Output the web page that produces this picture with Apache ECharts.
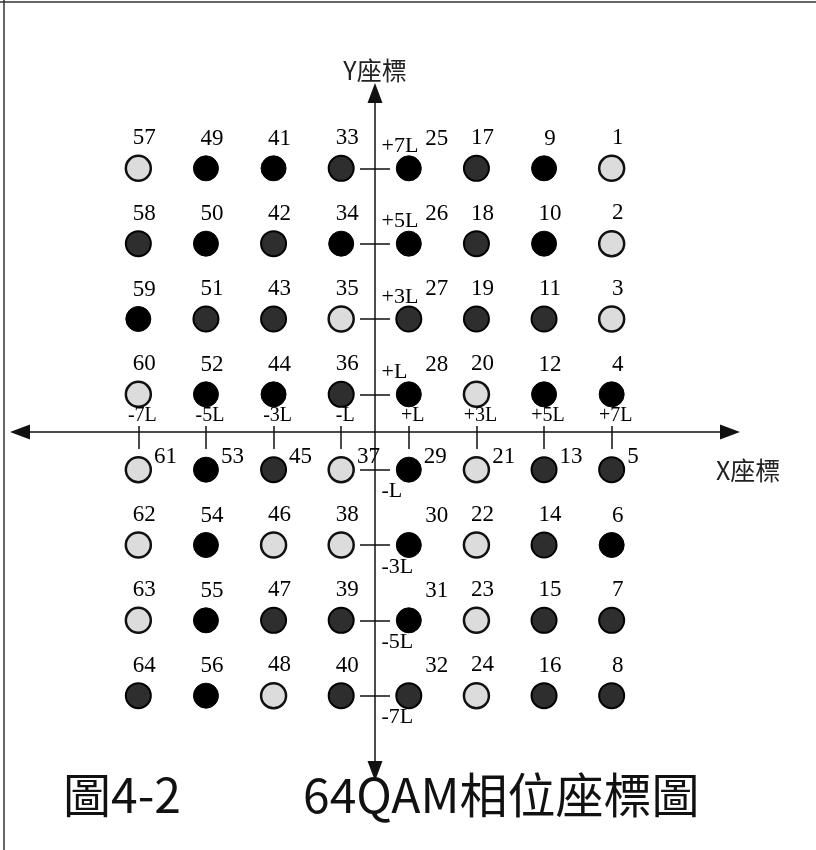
<!DOCTYPE html>
<html>
<head>
<meta charset="utf-8">
<title>64QAM相位座標圖</title>
<script src="https://cdn.jsdelivr.net/npm/echarts@6/dist/echarts.min.js"></script>
<style>
  html, body { margin: 0; padding: 0; background: #fff; }
  #chart { width: 816px; height: 850px; }
</style>
</head>
<body>
<div id="chart"></div>
<script>
// constellation levels in units of L: columns left -> right, rows top -> bottom
const xLevels = [-7, -5, -3, -1, 1, 3, 5, 7];
const yLevels = [7, 5, 3, 1, -1, -3, -5, -7];
const xTickLabels = ["-7L", "-5L", "-3L", "-L", "+L", "+3L", "+5L", "+7L"];
const yTickLabels = ["+7L", "+5L", "+3L", "+L", "-L", "-3L", "-5L", "-7L"];

// symbol number of each point, one row per y level
const symbolRows = [
  [57, 49, 41, 33, 25, 17, 9, 1],
  [58, 50, 42, 34, 26, 18, 10, 2],
  [59, 51, 43, 35, 27, 19, 11, 3],
  [60, 52, 44, 36, 28, 20, 12, 4],
  [61, 53, 45, 37, 29, 21, 13, 5],
  [62, 54, 46, 38, 30, 22, 14, 6],
  [63, 55, 47, 39, 31, 23, 15, 7],
  [64, 56, 48, 40, 32, 24, 16, 8]
];

// dot shading as printed: b = solid, d = dark speckled, l = light
const toneRows = [
  "lbbdbdbl",
  "dbdbbdbl",
  "bddldddl",
  "lbbdblbb",
  "lbdlbldd",
  "lbllbldb",
  "lbddbldd",
  "dblddldd"
];

const SERIF = '"Liberation Serif", "DejaVu Serif", "Noto Sans CJK TC", serif';
const CJK = '"Noto Sans CJK TC", "Noto Sans", sans-serif';

const TONE = {
  b: { color: "#000", borderColor: "#000", borderWidth: 1, opacity: 1 },
  d: { color: "#2e2e2e", borderColor: "#000", borderWidth: 2, opacity: 1 },
  l: { color: "#dcdcdc", borderColor: "#111", borderWidth: 2.5, opacity: 1 }
};

// number labels: above the dot; the column right of the Y axis is pushed
// clear of the axis labels, the row under the X axis goes to the upper right
function pointLabel(x, y) {
  if (y === -1) return { position: "right", distance: 2, offset: [0, -13] };
  if (x === 1) return { position: "top", offset: [28, 0] };
  return { position: "top", offset: [6, 0] };
}

const points = [];
yLevels.forEach((y, r) => {
  xLevels.forEach((x, c) => {
    points.push({
      value: [x, y, symbolRows[r][c]],
      itemStyle: TONE[toneRows[r][c]],
      label: pointLabel(x, y)
    });
  });
});

// tick labels sit next to the axes, which cross at the origin
const tickTexts = [];
xLevels.forEach((x, i) => {
  tickTexts.push({
    value: [x, 0],
    label: { formatter: xTickLabels[i], position: "top", distance: 6, offset: [4, 0], fontSize: 20 }
  });
});
yLevels.forEach((y, i) => {
  tickTexts.push({
    value: [0, y],
    label: { formatter: yTickLabels[i], position: "right", distance: 6, offset: [0, y > 0 ? -22 : 22] }
  });
});

const chart = echarts.init(document.getElementById("chart"), null, { renderer: "canvas" });

const axisColor = "#111";
const tickStyle = { color: axisColor, width: 1.5 };

chart.setOption({
  animation: false,
  backgroundColor: "#fff",
  title: [
    {
      text: "圖4-2",
      left: 58,
      top: 766,
      textStyle: { fontFamily: CJK, fontSize: 48, fontWeight: "normal", color: "#111" }
    },
    {
      text: "64QAM相位座標圖",
      left: 298,
      top: 766,
      textStyle: { fontFamily: CJK, fontSize: 48, fontWeight: "normal", color: "#111" }
    }
  ],
  graphic: [
    { id: "frameLeft", type: "line", shape: { x1: 4, y1: 0, x2: 4, y2: 850 }, style: { stroke: "#333", lineWidth: 1.5 } },
    { id: "frameTop", type: "line", shape: { x1: 0, y1: 2, x2: 816, y2: 2 }, style: { stroke: "#333", lineWidth: 1.5 } }
  ],
  grid: { left: 20, right: 86, top: 93, bottom: 79, containLabel: false },
  xAxis: [
    {
      type: "value",
      min: -10.5,
      max: 10.5,
      position: "bottom",
      axisLine: {
        onZero: true,
        onZeroAxisIndex: 0,
        symbol: ["triangle", "triangle"],
        symbolSize: [15, 20],
        lineStyle: { color: axisColor, width: 1.5 }
      },
      axisTick: { customValues: xLevels, length: 17, lineStyle: tickStyle },
      axisLabel: { show: false },
      splitLine: { show: false }
    },
    {
      // upper half of the x ticks
      type: "value",
      min: -10.5,
      max: 10.5,
      position: "bottom",
      axisLine: { onZero: true, onZeroAxisIndex: 0, lineStyle: { opacity: 0 } },
      axisTick: { customValues: xLevels, inside: true, length: 6, lineStyle: tickStyle },
      axisLabel: { show: false },
      splitLine: { show: false }
    }
  ],
  yAxis: [
    {
      type: "value",
      min: -9,
      max: 9,
      position: "left",
      name: "Y座標",
      nameLocation: "end",
      nameGap: 10,
      nameTextStyle: { fontFamily: CJK, fontSize: 25, color: "#222" },
      axisLine: {
        onZero: true,
        onZeroAxisIndex: 0,
        symbol: ["triangle", "triangle"],
        symbolSize: [15, 20],
        lineStyle: { color: axisColor, width: 1.5 }
      },
      axisTick: { customValues: yLevels, length: 15, lineStyle: tickStyle },
      axisLabel: { show: false },
      splitLine: { show: false }
    },
    {
      // right half of the y ticks
      type: "value",
      min: -9,
      max: 9,
      position: "left",
      axisLine: { onZero: true, onZeroAxisIndex: 0, lineStyle: { opacity: 0 } },
      axisTick: { customValues: yLevels, inside: true, length: 15, lineStyle: tickStyle },
      axisLabel: { show: false },
      splitLine: { show: false }
    }
  ],
  series: [
    {
      name: "64QAM",
      type: "scatter",
      xAxisIndex: 0,
      yAxisIndex: 0,
      symbol: "circle",
      symbolSize: 25,
      data: points,
      itemStyle: { opacity: 1 },
      label: {
        show: true,
        formatter: p => p.value[2],
        fontFamily: SERIF,
        fontSize: 23,
        color: "#000"
      },
      emphasis: { disabled: true },
      z: 3
    },
    {
      name: "axis labels",
      type: "scatter",
      xAxisIndex: 0,
      yAxisIndex: 0,
      symbolSize: 1,
      silent: true,
      itemStyle: { color: "rgba(0,0,0,0)", opacity: 1 },
      data: tickTexts,
      label: {
        show: true,
        fontFamily: SERIF,
        fontSize: 22,
        color: "#000"
      },
      emphasis: { disabled: true },
      z: 4
    }
  ]
});

// x axis name sits below the right end of the axis
const xEnd = chart.convertToPixel({ gridIndex: 0 }, [10.5, 0]);
chart.setOption({
  graphic: [
    {
      id: "xName",
      type: "text",
      x: xEnd[0] - 14,
      y: xEnd[1] + 38,
      style: { text: "X座標", font: '25px "Noto Sans CJK TC"', fill: "#222", verticalAlign: "middle" }
    }
  ]
});
</script>
</body>
</html>
